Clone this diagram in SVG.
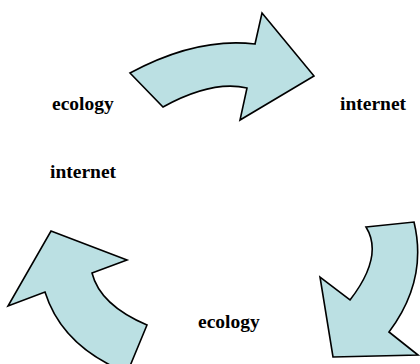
<svg xmlns="http://www.w3.org/2000/svg" width="420" height="364" viewBox="0 0 420 364">
<style>
.arrow{fill:#BBE0E3;stroke:#000;stroke-width:1.6;stroke-linejoin:miter}
.lbl{font-family:"Liberation Serif","Times New Roman",serif;font-weight:bold;font-size:19.5px;fill:#000}
</style>
<rect width="420" height="364" fill="#fff"/>
<g id="connectors">
<path id="arrow-top" class="arrow" d="M130,73 Q197,37 255,44 L262,13 L314,76 L240,120 L247,88 Q212,80 163,107 Z"/>
<path id="arrow-right" class="arrow" d="M366,227 L414,222 Q428,280 389,332 L418,355 L333,357 L320,277 L350,300 Q384,256 366,227 Z"/>
<path id="arrow-left" class="arrow" d="M51,231 L127,260 L92,273 Q100,305 147,325 L130,366 L112,366 Q60,340 45,292 L8,306 Z"/>
</g>
<g id="node-ecology-1"><text class="lbl" x="52" y="110">ecology</text></g>
<g id="node-internet-1"><text class="lbl" x="340" y="110">internet</text></g>
<g id="node-internet-2"><text class="lbl" x="50" y="178">internet</text></g>
<g id="node-ecology-2"><text class="lbl" x="198" y="328">ecology</text></g>
</svg>
